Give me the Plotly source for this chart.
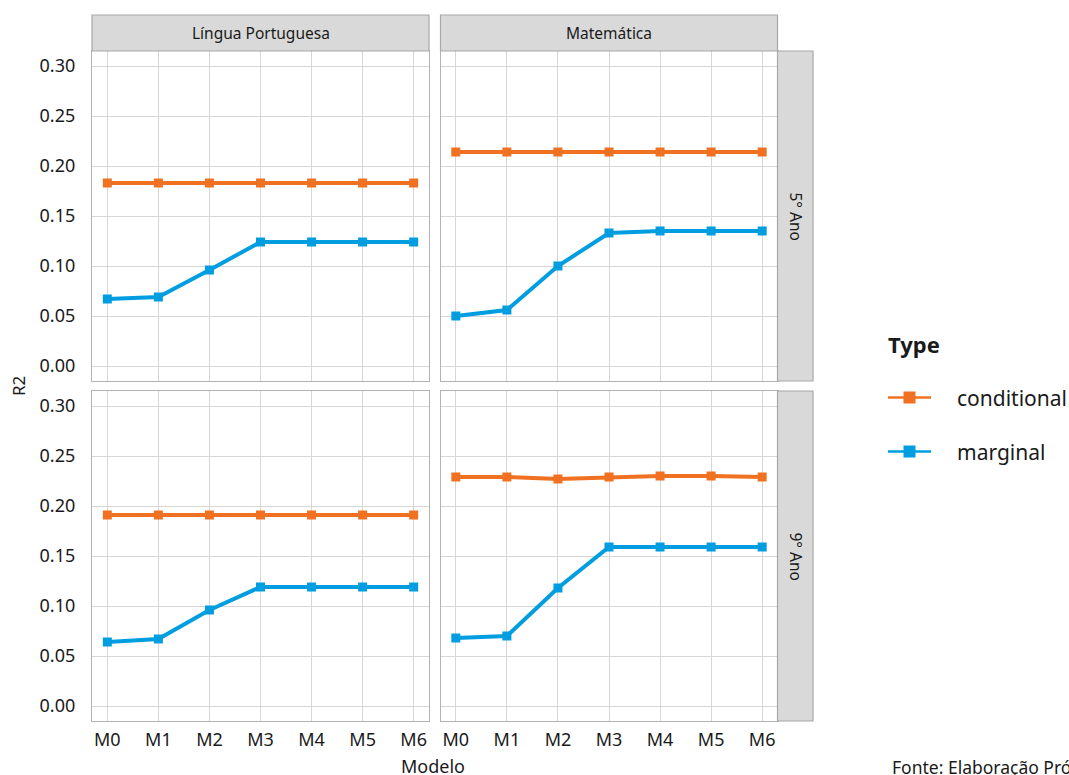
import plotly.graph_objects as go

# ---- data ----
modelos = ["M0", "M1", "M2", "M3", "M4", "M5", "M6"]
disciplinas = ["Língua Portuguesa", "Matemática"]
anos = ["5° Ano", "9° Ano"]

lp5_conditional = [0.183, 0.183, 0.183, 0.183, 0.183, 0.183, 0.183]
lp5_marginal = [0.067, 0.069, 0.096, 0.124, 0.124, 0.124, 0.124]
mat5_conditional = [0.214, 0.214, 0.214, 0.214, 0.214, 0.214, 0.214]
mat5_marginal = [0.050, 0.056, 0.100, 0.133, 0.135, 0.135, 0.135]
lp9_conditional = [0.191, 0.191, 0.191, 0.191, 0.191, 0.191, 0.191]
lp9_marginal = [0.064, 0.067, 0.096, 0.119, 0.119, 0.119, 0.119]
mat9_conditional = [0.229, 0.229, 0.227, 0.229, 0.230, 0.230, 0.229]
mat9_marginal = [0.068, 0.070, 0.118, 0.159, 0.159, 0.159, 0.159]

tipos = ["conditional", "marginal"]
cores = {"conditional": "#EF7121", "marginal": "#009EE0"}

W, H = 1069, 775
def px(x):
    return x / W
def py(y):
    return 1 - y / H

panels = [
    ("x", "y", lp5_conditional, lp5_marginal),
    ("x2", "y2", mat5_conditional, mat5_marginal),
    ("x3", "y3", lp9_conditional, lp9_marginal),
    ("x4", "y4", mat9_conditional, mat9_marginal),
]

fig = go.Figure()
for xa, ya, cond, marg in panels:
    for tipo, vals in zip(tipos, [cond, marg]):
        fig.add_trace(go.Scatter(
            x=modelos, y=vals, xaxis=xa, yaxis=ya, mode="lines+markers",
            name=tipo, showlegend=False,
            line=dict(color=cores[tipo], width=4),
            marker=dict(symbol="square", size=9, color=cores[tipo]),
        ))

xdom = [(92, 429), (440.5, 777.5)]
ydom = [(51, 381), (391, 721)]
font_family = "Noto Sans"
txt_color = "#1a1a1a"
grid = "#d6d6d6"
border = "#b3b3b3"

layout = dict(
    width=W, height=H, margin=dict(l=0, r=0, t=0, b=0),
    paper_bgcolor="white", plot_bgcolor="white",
    font=dict(family=font_family, color=txt_color, size=18),
)

axis_idx = 0
for r in range(2):
    for c in range(2):
        axis_idx += 1
        sfx = "" if axis_idx == 1 else str(axis_idx)
        layout["xaxis" + sfx] = dict(
            domain=[px(xdom[c][0]), px(xdom[c][1])],
            anchor="y" + sfx,
            type="category", categoryorder="array", categoryarray=modelos,
            range=[-0.3, 6.3],
            showgrid=True, gridcolor=grid, gridwidth=1.2,
            zeroline=False, showline=True, mirror=True, linecolor=border, linewidth=1.2,
            showticklabels=(r == 1), ticks="outside", ticklen=2,
            tickcolor="rgba(0,0,0,0)",
            tickfont=dict(size=18, color=txt_color),
        )
        layout["yaxis" + sfx] = dict(
            domain=[py(ydom[r][1]), py(ydom[r][0])],
            anchor="x" + sfx,
            range=[-0.015, 0.315],
            tickvals=[0, 0.05, 0.10, 0.15, 0.20, 0.25, 0.30],
            ticktext=["0.00", "0.05", "0.10", "0.15", "0.20", "0.25", "0.30"],
            showgrid=True, gridcolor=grid, gridwidth=1.2,
            zeroline=False, showline=True, mirror=True, linecolor=border, linewidth=1.2,
            showticklabels=(c == 0), ticks="outside", ticklen=12,
            tickcolor="rgba(0,0,0,0)",
            tickfont=dict(size=18, color=txt_color),
        )

shapes = []
annotations = []
strip_fill = "#d9d9d9"
strip_line = "#a8a8a8"
# top strips
for c, disc in enumerate(disciplinas):
    x0, x1 = xdom[c]
    shapes.append(dict(type="rect", xref="paper", yref="paper",
                       x0=px(x0), x1=px(x1), y0=py(51), y1=py(15),
                       fillcolor=strip_fill, line=dict(color=strip_line, width=1.2)))
    annotations.append(dict(text=disc, xref="paper", yref="paper",
                            x=px((x0 + x1) / 2), y=py(33), showarrow=False,
                            xanchor="center", yanchor="middle",
                            font=dict(size=15.5, color=txt_color)))
# right strips
for r, ano in enumerate(anos):
    y0, y1 = ydom[r]
    shapes.append(dict(type="rect", xref="paper", yref="paper",
                       x0=px(777.5), x1=px(813), y0=py(y1), y1=py(y0),
                       fillcolor=strip_fill, line=dict(color=strip_line, width=1.2)))
    annotations.append(dict(text=ano, xref="paper", yref="paper",
                            x=px(795.5), y=py((y0 + y1) / 2), showarrow=False,
                            textangle=90, xanchor="center", yanchor="middle",
                            font=dict(size=15.5, color=txt_color)))

# axis titles
annotations.append(dict(text="Modelo", xref="paper", yref="paper",
                        x=px(433), y=py(766), showarrow=False,
                        xanchor="center", yanchor="middle",
                        font=dict(size=18, color=txt_color)))
annotations.append(dict(text="R2", xref="paper", yref="paper",
                        x=px(18), y=py(386), showarrow=False, textangle=-90,
                        xanchor="center", yanchor="middle",
                        font=dict(size=17, color=txt_color)))

# legend (drawn manually)
annotations.append(dict(text="<b>Type</b>", xref="paper", yref="paper",
                        x=px(886), y=py(344), showarrow=False,
                        xanchor="left", yanchor="middle",
                        font=dict(size=22, color=txt_color)))
for tipo, yc in zip(tipos, [397.5, 451.5]):
    shapes.append(dict(type="line", xref="paper", yref="paper",
                       x0=px(888), x1=px(931), y0=py(yc), y1=py(yc),
                       line=dict(color=cores[tipo], width=2.5)))
    shapes.append(dict(type="rect", xref="paper", yref="paper",
                       x0=px(903.5), x1=px(915.5), y0=py(yc + 6), y1=py(yc - 6),
                       fillcolor=cores[tipo], line=dict(width=0)))
    annotations.append(dict(text=tipo, xref="paper", yref="paper",
                            x=px(955), y=py(yc), showarrow=False,
                            xanchor="left", yanchor="middle",
                            font=dict(size=21, color=txt_color)))

# caption (cut at the right edge, as in the reference)
annotations.append(dict(text="Fonte: Elaboração Própria", xref="paper", yref="paper",
                        x=px(890), y=py(767), showarrow=False,
                        xanchor="left", yanchor="middle",
                        font=dict(size=17.5, color=txt_color)))

layout["shapes"] = shapes
layout["annotations"] = annotations
fig.update_layout(**layout)
fig.write_html("out.html", config={"displayModeBar": False},
               post_script="document.body.style.margin='0px';document.body.style.overflow='hidden';")
